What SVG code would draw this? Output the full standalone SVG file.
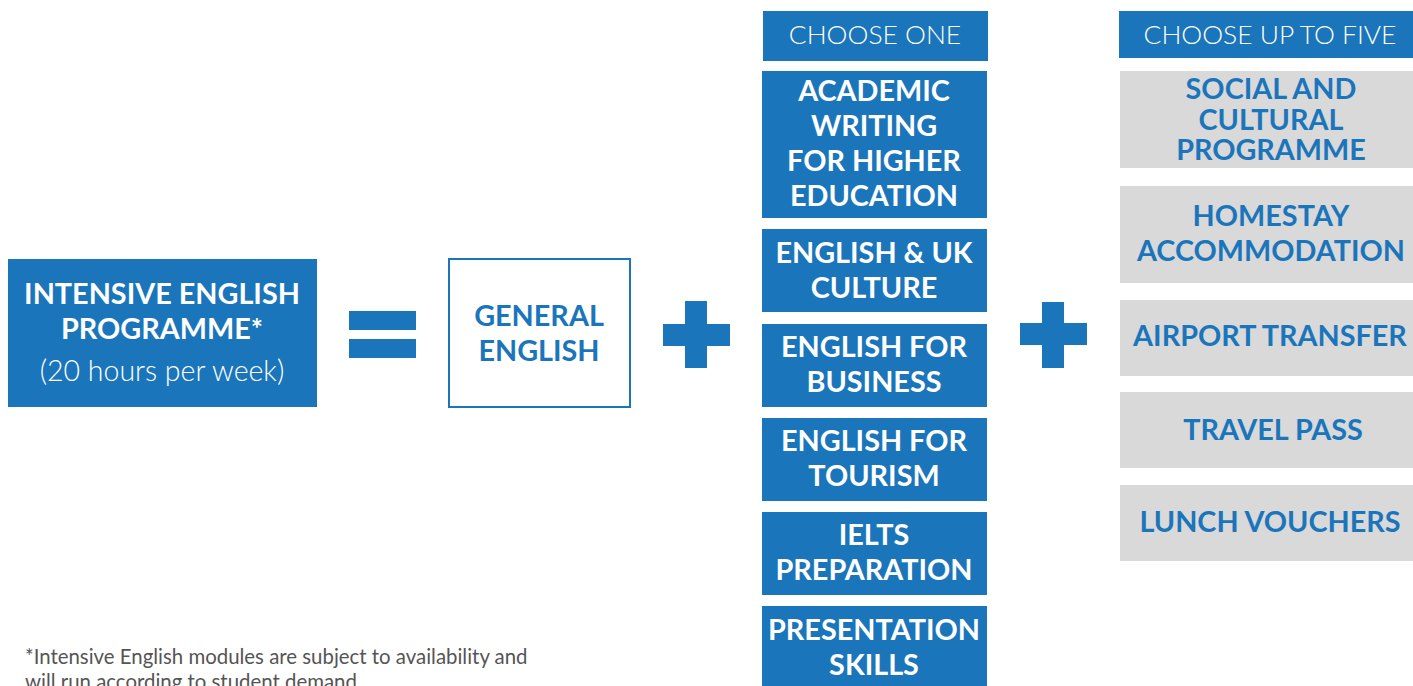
<svg xmlns="http://www.w3.org/2000/svg" width="1413" height="686" viewBox="0 0 1413 686">
<style>
.blue{fill:#1b75bb}
.grey{fill:#d9d9d9}
.t{font-family:Lato,"Liberation Sans",sans-serif;font-weight:700;text-anchor:middle;font-size:28.8px}
.w{fill:#ffffff}
.b{fill:#1b75bb}
.lt{font-family:Lato,"Liberation Sans",sans-serif;font-weight:300;text-anchor:middle;fill:#ffffff;font-size:26.4px}
.note{font-family:Lato,"Liberation Sans",sans-serif;font-weight:400;fill:#555555;font-size:20.4px}
</style>
<rect width="1413" height="686" fill="#ffffff"/>
<g id="intensive">
<rect class="blue" x="8" y="259" width="309" height="148"/>
<text class="t w" x="162" y="304">INTENSIVE ENGLISH</text>
<text class="t w" x="162" y="339">PROGRAMME*</text>
<text class="lt" style="font-size:28.5px" x="162" y="381">(20 hours per week)</text>
</g>
<g id="equals">
<rect class="blue" x="349" y="311" width="67" height="19"/>
<rect class="blue" x="349" y="339" width="67" height="19"/>
</g>
<g id="general">
<rect x="449" y="259" width="181" height="148" fill="#ffffff" stroke="#1b75bb" stroke-width="2"/>
<text class="t b" x="539" y="326">GENERAL</text>
<text class="t b" x="539" y="361">ENGLISH</text>
</g>
<g id="plus1">
<rect class="blue" x="663" y="324" width="67" height="22"/>
<rect class="blue" x="685" y="301" width="22" height="67"/>
</g>
<g id="choose-one">
<rect class="blue" x="763" y="11" width="225" height="50"/>
<text class="lt" x="875" y="44">CHOOSE ONE</text>
</g>
<g id="academic">
<rect class="blue" x="762" y="71" width="225" height="147"/>
<text class="t w" x="874" y="101">ACADEMIC</text>
<text class="t w" x="874" y="136">WRITING</text>
<text class="t w" x="874" y="171">FOR HIGHER</text>
<text class="t w" x="874" y="206">EDUCATION</text>
</g>
<g id="uk-culture">
<rect class="blue" x="762" y="229" width="225" height="83"/>
<text class="t w" x="874" y="263">ENGLISH &amp; UK</text>
<text class="t w" x="874" y="298">CULTURE</text>
</g>
<g id="business">
<rect class="blue" x="762" y="324" width="225" height="83"/>
<text class="t w" x="874" y="357">ENGLISH FOR</text>
<text class="t w" x="874" y="392">BUSINESS</text>
</g>
<g id="tourism">
<rect class="blue" x="762" y="418" width="225" height="83"/>
<text class="t w" x="874" y="451">ENGLISH FOR</text>
<text class="t w" x="874" y="486">TOURISM</text>
</g>
<g id="ielts">
<rect class="blue" x="762" y="512" width="225" height="83"/>
<text class="t w" x="874" y="545">IELTS</text>
<text class="t w" x="874" y="580">PREPARATION</text>
</g>
<g id="presentation">
<rect class="blue" x="762" y="606" width="225" height="83"/>
<text class="t w" x="874" y="640">PRESENTATION</text>
<text class="t w" x="874" y="675">SKILLS</text>
</g>
<g id="plus2">
<rect class="blue" x="1020" y="323" width="67" height="22"/>
<rect class="blue" x="1042" y="302" width="22" height="66"/>
</g>
<g id="choose-five">
<rect class="blue" x="1119" y="11" width="294" height="47"/>
<text class="lt" x="1270" y="44">CHOOSE UP TO FIVE</text>
</g>
<g id="social">
<rect class="grey" x="1120" y="71" width="293" height="97"/>
<text class="t b" x="1271" y="99">SOCIAL AND</text>
<text class="t b" x="1271" y="130">CULTURAL</text>
<text class="t b" x="1271" y="160">PROGRAMME</text>
</g>
<g id="homestay">
<rect class="grey" x="1120" y="186" width="293" height="97"/>
<text class="t b" x="1271" y="226">HOMESTAY</text>
<text class="t b" x="1271" y="261">ACCOMMODATION</text>
</g>
<g id="airport">
<rect class="grey" x="1120" y="300" width="293" height="76"/>
<text class="t b" x="1270" y="346">AIRPORT TRANSFER</text>
</g>
<g id="travel">
<rect class="grey" x="1120" y="392" width="293" height="76"/>
<text class="t b" x="1273" y="440">TRAVEL PASS</text>
</g>
<g id="lunch">
<rect class="grey" x="1120" y="485" width="293" height="76"/>
<text class="t b" x="1270" y="532">LUNCH VOUCHERS</text>
</g>
<g id="footnote">
<text class="note" x="25" y="664">*Intensive English modules are subject to availability and</text>
<text class="note" x="25" y="689">will run according to student demand</text>
</g>
</svg>
